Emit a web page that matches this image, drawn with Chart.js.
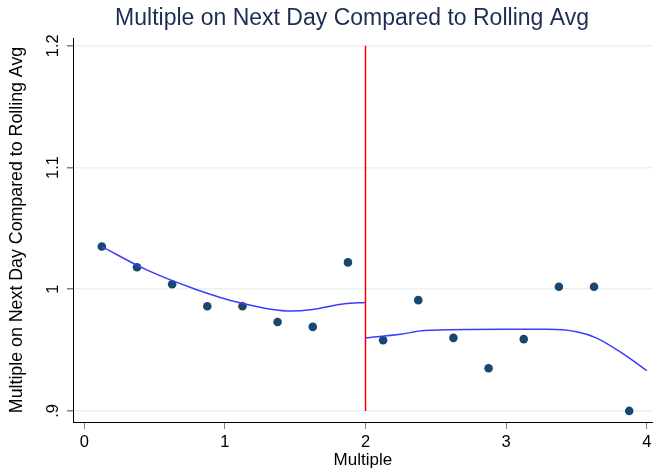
<!DOCTYPE html>
<html>
<head>
<meta charset="utf-8">
<script src="https://cdn.jsdelivr.net/npm/chart.js@4/dist/chart.umd.min.js"></script>
<style>
  html, body { margin: 0; padding: 0; background: #fff; }
</style>
</head>
<body>
<canvas id="chart" width="657" height="469"></canvas>
<script>
// Binned means (bin midpoints on the x axis)
const binMid = [0.125, 0.375, 0.625, 0.875, 1.125, 1.375, 1.625, 1.875,
                2.125, 2.375, 2.625, 2.875, 3.125, 3.375, 3.625, 3.875];
const meanRatio = [1.035, 1.018, 1.004, 0.986, 0.986, 0.973, 0.969, 1.022,
                   0.958, 0.991, 0.960, 0.935, 0.959, 1.002, 1.002, 0.900];

const fitLeftX  = [0.125, 0.44, 0.79, 1.10, 1.47, 1.61, 1.85, 2.0];
const fitLeftY  = [1.035, 1.016, 1.000, 0.989, 0.982, 0.983, 0.988, 0.989];
const fitRightX = [2.0, 2.25, 2.42, 2.98, 3.29, 3.50, 3.64, 3.83, 4.0];
const fitRightY = [0.960, 0.963, 0.966, 0.967, 0.967, 0.965, 0.960, 0.947, 0.933];

const cutoff = 2;
const cutoffSpan = [0.9, 1.2];

const xTicks = [0, 1, 2, 3, 4];
const yTicks = [0.9, 1, 1.1, 1.2];
const yTickLabels = ['.9', '1', '1.1', '1.2'];

const titleText = 'Multiple on Next Day Compared to Rolling Avg';
const FONT = "'Liberation Sans', Arial, sans-serif";

const toPoints = (xs, ys) => xs.map((x, i) => ({ x: x, y: ys[i] }));

// draws the rotated y tick labels and the graph title
const stataText = {
  id: 'stataText',
  afterDraw(chart) {
    const ctx = chart.ctx;
    const y = chart.scales.y;
    ctx.save();
    ctx.fillStyle = '#000';
    ctx.font = '16.5px ' + FONT;
    ctx.textAlign = 'center';
    ctx.textBaseline = 'middle';
    yTicks.forEach((v, i) => {
      ctx.save();
      ctx.translate(53, y.getPixelForValue(v));
      ctx.rotate(-Math.PI / 2);
      ctx.fillText(yTickLabels[i], 0, 0);
      ctx.restore();
    });
    ctx.fillStyle = '#1e2d53';
    ctx.font = '23px ' + FONT;
    ctx.fillText(titleText, 352, 19);
    ctx.restore();
  }
};

new Chart(document.getElementById('chart'), {
  type: 'scatter',
  data: {
    datasets: [
      {
        data: toPoints([cutoff, cutoff], cutoffSpan),
        showLine: true,
        borderColor: '#ff0000',
        borderWidth: 1.5,
        pointRadius: 0
      },
      {
        data: toPoints(fitLeftX, fitLeftY),
        showLine: true,
        borderColor: '#3c3cff',
        borderWidth: 1.5,
        cubicInterpolationMode: 'monotone',
        pointRadius: 0
      },
      {
        data: toPoints(fitRightX, fitRightY),
        showLine: true,
        borderColor: '#3c3cff',
        borderWidth: 1.5,
        cubicInterpolationMode: 'monotone',
        pointRadius: 0
      },
      {
        data: toPoints(binMid, meanRatio),
        backgroundColor: '#1a476f',
        borderColor: '#1a476f',
        pointRadius: 4.3,
        pointBorderWidth: 0
      }
    ]
  },
  options: {
    responsive: false,
    animation: false,
    clip: false,
    layout: { padding: { top: 38, left: 0, right: 0, bottom: 0 } },
    plugins: {
      legend: { display: false },
      tooltip: { enabled: false },
      title: { display: false }
    },
    scales: {
      x: {
        type: 'linear',
        min: -0.08,
        max: 4.042,
        afterBuildTicks: s => { s.ticks = xTicks.map(v => ({ value: v })); },
        afterFit: s => { s.height = 47; },
        ticks: {
          color: '#000',
          font: { family: FONT, size: 16.5 },
          padding: 4,
          maxRotation: 0,
          autoSkip: false
        },
        grid: { drawOnChartArea: false, tickLength: 7, tickColor: '#808080' },
        border: { color: '#000', width: 1 },
        title: {
          display: true,
          text: 'Multiple',
          color: '#000',
          font: { family: FONT, size: 17 },
          padding: { top: 0, bottom: -2 }
        }
      },
      y: {
        type: 'linear',
        min: 0.8909,
        max: 1.2063,
        afterBuildTicks: s => { s.ticks = yTicks.map(v => ({ value: v })); },
        afterFit: s => { s.width = 73; },
        ticks: { display: false },
        grid: { color: '#eaf2f3', lineWidth: 1.5, tickLength: 6, tickColor: '#808080' },
        border: { color: '#000', width: 1 },
        title: {
          display: true,
          text: titleText,
          color: '#000',
          font: { family: FONT, size: 17.8 },
          padding: 6
        }
      }
    }
  },
  plugins: [stataText]
});
</script>
</body>
</html>
